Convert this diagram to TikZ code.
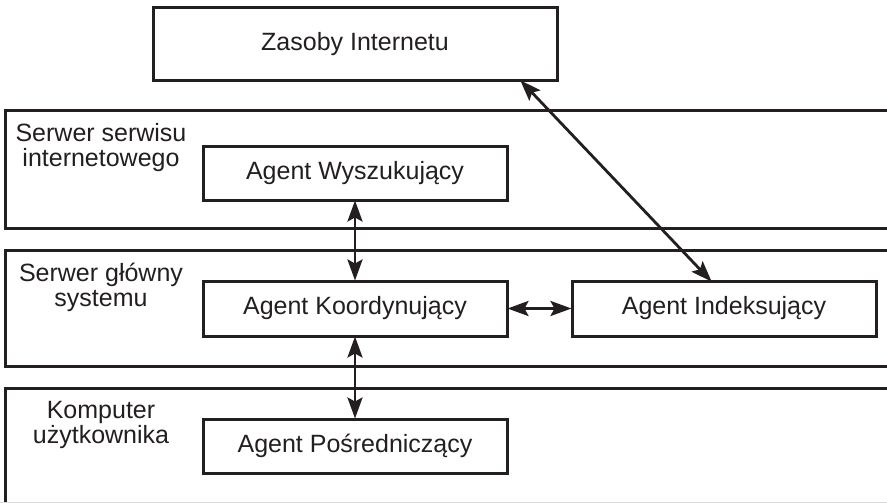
\documentclass[tikz,border=0pt]{standalone}
\usepackage{fontspec}
\setmainfont{Liberation Sans}
\usetikzlibrary{arrows.meta}
\definecolor{ink}{HTML}{231F20}
\begin{document}
\begin{tikzpicture}[x=1pt,y=-1pt,
  line width=3pt, draw=ink,
  agent/.style={draw=ink, line width=3pt, inner sep=0pt, font=\fontsize{25}{25}\selectfont, text=ink},
  bandlabel/.style={align=center, font=\fontsize{25}{25}\selectfont, text=ink, anchor=north, inner sep=0pt},
  conn/.style={draw=ink, line width=2.8pt, {Stealth[length=21pt,width=15pt,inset=4pt]}-{Stealth[length=21pt,width=15pt,inset=4pt]}, shorten <=-1pt, shorten >=-1pt}
]
\useasboundingbox (0,0) rectangle (887,503);
\clip (0,0) rectangle (887,503);
\fill[white] (0,0) rectangle (887,503);
% bands
\draw[ink] (5,111) rectangle (900,228);
\draw[ink] (5,250) rectangle (900,366);
\draw[ink] (5,388) rectangle (900,520);
\draw[gray!30, line width=1pt] (0,502.5) -- (887,502.5);
% band labels
\node[bandlabel] (l1) at (101,122) {Serwer serwisu\\internetowego};
\node[bandlabel] (l2) at (101,262) {Serwer główny\\systemu};
\node[bandlabel] (l3) at (101,400) {Komputer\\użytkownika};
% agents
\node[agent, minimum width=404pt, minimum height=73pt] (zas) at (355,44.5) {Zasoby Internetu};
\node[agent, minimum width=304pt, minimum height=54pt] (wys) at (355,173) {Agent Wyszukujący};
\node[agent, minimum width=304pt, minimum height=55pt] (koo) at (355,308.5) {Agent Koordynujący};
\node[agent, minimum width=304pt, minimum height=55pt] (ind) at (724,308.5) {Agent Indeksujący};
\node[agent, minimum width=304pt, minimum height=54pt] (pos) at (355,446) {Agent Pośredniczący};
% connectors
\draw[conn] (wys.south) -- (koo.north);
\draw[conn] (koo.south) -- (pos.north);
\draw[conn] (koo.east) -- (ind.west);
\coordinate (zb) at (521,81);
\coordinate (it) at (711,281);
\draw[conn] (zb) -- (it);
\end{tikzpicture}
\end{document}
